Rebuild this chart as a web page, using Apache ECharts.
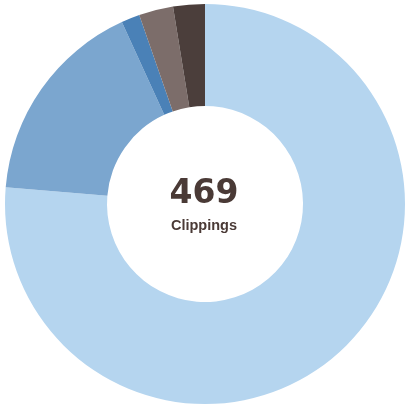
<!DOCTYPE html>
<html><head><meta charset="utf-8">
<script src="https://cdn.jsdelivr.net/npm/echarts@6/dist/echarts.min.js"></script>
<style>html,body{margin:0;padding:0;background:#fff}#c{width:406px;height:406px}</style>
</head><body><div id="c"></div>
<script>
const categories = ['A', 'B', 'C', 'D', 'E'];
const values = [358, 79, 7, 13, 12];
const colors = ['#b5d5ef', '#7ba6cf', '#4a81b7', '#7c6d6a', '#4b3e3b'];
const totalLabel = '469';
const subLabel = 'Clippings';

const chart = echarts.init(document.getElementById('c'), null, {renderer: 'canvas'});
chart.setOption({
  animation: false,
  graphic: [
    {type: 'text', style: {x: 204, y: 178, text: totalLabel, font: 'bold 33px "DejaVu Sans"', fill: '#4a3a36', textAlign: 'center', textVerticalAlign: 'top'}},
    {type: 'text', style: {x: 204, y: 218, text: subLabel, font: 'bold 14.5px "Liberation Sans"', fill: '#4a3a36', textAlign: 'center', textVerticalAlign: 'top'}}
  ],
  series: [{
    type: 'pie',
    center: [205, 204],
    radius: [98, 200],
    startAngle: 90,
    clockwise: true,
    label: {show: false},
    labelLine: {show: false},
    itemStyle: {borderWidth: 0},
    emphasis: {disabled: true},
    data: categories.map((c, i) => ({name: c, value: values[i], itemStyle: {color: colors[i]}}))
  }]
});
</script></body></html>
